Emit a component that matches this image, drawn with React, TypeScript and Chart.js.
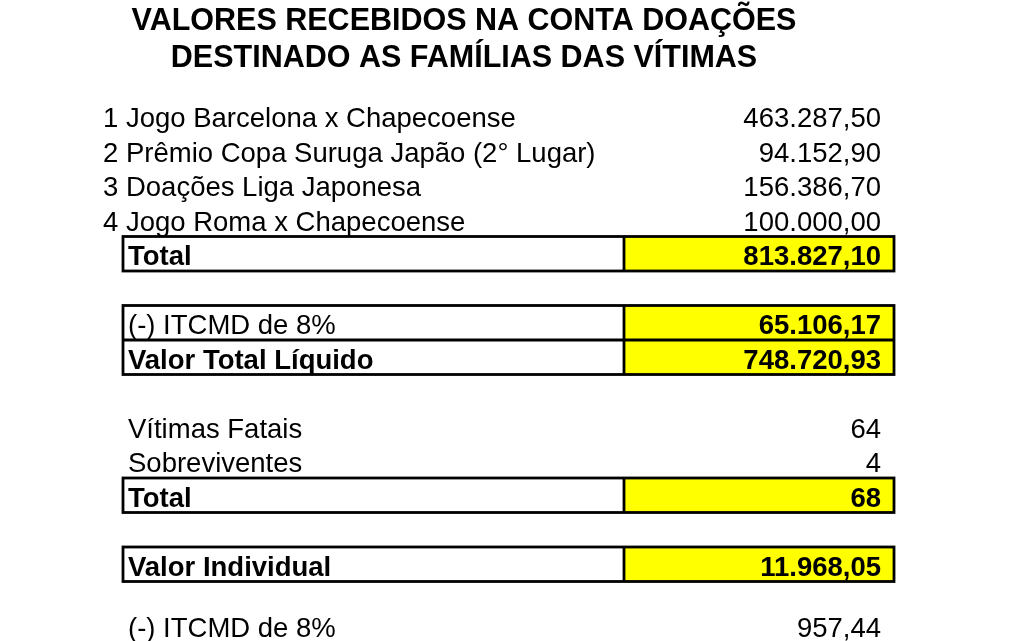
import React, { useEffect, useRef } from "react";
import { Chart, registerables } from "chart.js";

Chart.register(...registerables);

// ---- data ----
const TITLE_LINES = ["VALORES RECEBIDOS NA CONTA DOAÇÕES", "DESTINADO AS FAMÍLIAS DAS VÍTIMAS"];
const ITEM_LABELS = [
  "1 Jogo Barcelona x Chapecoense",
  "2 Prêmio Copa Suruga Japão (2° Lugar)",
  "3 Doações Liga Japonesa",
  "4 Jogo Roma x Chapecoense",
];
const ITEM_VALUES = [463287.5, 94152.9, 156386.7, 100000.0];
const TOTAL_LABEL = "Total";
const TOTAL_VALUE = 813827.1;
const TAX_LABEL = "(-) ITCMD de 8%";
const TAX_VALUE = 65106.17;
const NET_LABEL = "Valor Total Líquido";
const NET_VALUE = 748720.93;
const PEOPLE_LABELS = ["Vítimas Fatais", "Sobreviventes"];
const PEOPLE_VALUES = [64, 4];
const PEOPLE_TOTAL_LABEL = "Total";
const PEOPLE_TOTAL = 68;
const INDIVIDUAL_LABEL = "Valor Individual";
const INDIVIDUAL_VALUE = 11968.05;
const INDIVIDUAL_TAX_LABEL = "(-) ITCMD de 8%";
const INDIVIDUAL_TAX_VALUE = 957.44;

// ---- layout ----
const W = 1024;
const H = 641;
const PITCH = 34.5;
const ROW0 = 115.75;
const COL = { num: 103, label: 128, boxL: 123, split: 624, boxR: 894, value: 881 };
const FONT = "'Liberation Sans', Arial, sans-serif";
const FS = 27.5;

type Row = {
  label: string;
  value: number;
  dec: number;
  bold: boolean;
  valueBold: boolean;
  slot: number;
  indent: boolean;
  box: number;
};

function fmt(v: number, dec: number): string {
  const neg = v < 0;
  const fixed = Math.abs(v).toFixed(dec);
  const [intPart, decPart] = fixed.split(".");
  const withDots = intPart.replace(/\B(?=(\d{3})+(?!\d))/g, ".");
  return (neg ? "-" : "") + withDots + (decPart ? "," + decPart : "");
}

const ROWS: Row[] = [
  ...ITEM_LABELS.map((l, i) => ({
    label: l, value: ITEM_VALUES[i], dec: 2, bold: false, valueBold: false, slot: i, indent: false, box: -1,
  })),
  { label: TOTAL_LABEL, value: TOTAL_VALUE, dec: 2, bold: true, valueBold: true, slot: 4, indent: true, box: 0 },
  { label: TAX_LABEL, value: TAX_VALUE, dec: 2, bold: false, valueBold: true, slot: 6, indent: true, box: 1 },
  { label: NET_LABEL, value: NET_VALUE, dec: 2, bold: true, valueBold: true, slot: 7, indent: true, box: 1 },
  ...PEOPLE_LABELS.map((l, i) => ({
    label: l, value: PEOPLE_VALUES[i], dec: 0, bold: false, valueBold: false, slot: 9 + i, indent: true, box: -1,
  })),
  { label: PEOPLE_TOTAL_LABEL, value: PEOPLE_TOTAL, dec: 0, bold: true, valueBold: true, slot: 11, indent: true, box: 2 },
  { label: INDIVIDUAL_LABEL, value: INDIVIDUAL_VALUE, dec: 2, bold: true, valueBold: true, slot: 13, indent: true, box: 3 },
  {
    label: INDIVIDUAL_TAX_LABEL, value: INDIVIDUAL_TAX_VALUE, dec: 2, bold: false, valueBold: false, slot: 14.78, indent: true, box: -1,
  },
];

const tablePlugin = {
  id: "tablePlugin",
  afterDraw(chart: any) {
    const ctx = chart.ctx as CanvasRenderingContext2D;
    const xs = chart.scales.x;
    const ys = chart.scales.y;
    const px = (v: number) => xs.getPixelForValue(v);
    const py = (v: number) => ys.getPixelForValue(v);
    ctx.save();
    ctx.fillStyle = "#ffffff";
    ctx.fillRect(0, 0, W, H);

    // title
    ctx.fillStyle = "#000";
    ctx.textAlign = "center";
    ctx.textBaseline = "alphabetic";
    ctx.font = `bold 30.5px ${FONT}`;
    ctx.fillText(TITLE_LINES[0], px(464), 30);
    ctx.fillText(TITLE_LINES[1], px(464), 67);

    // boxes
    const groups: Record<number, Row[]> = {};
    ROWS.forEach((r) => {
      if (r.box >= 0) (groups[r.box] = groups[r.box] || []).push(r);
    });
    Object.values(groups).forEach((g) => {
      const top = py(g[0].slot - 0.5);
      const bot = py(g[g.length - 1].slot + 0.5);
      ctx.fillStyle = "#ffff00";
      ctx.fillRect(px(COL.split), top, px(COL.boxR) - px(COL.split), bot - top);
      ctx.strokeStyle = "#000";
      ctx.lineWidth = 2.8;
      ctx.strokeRect(px(COL.boxL), top, px(COL.boxR) - px(COL.boxL), bot - top);
      ctx.beginPath();
      ctx.moveTo(px(COL.split), top);
      ctx.lineTo(px(COL.split), bot);
      for (let i = 1; i < g.length; i++) {
        const y = py(g[i].slot - 0.5);
        ctx.moveTo(px(COL.boxL), y);
        ctx.lineTo(px(COL.boxR), y);
      }
      ctx.stroke();
    });

    // text
    ROWS.forEach((r) => {
      const base = py(r.slot) + 0.358 * FS + 1.5;
      ctx.fillStyle = "#000";
      ctx.font = `${r.bold ? "bold " : ""}${FS}px ${FONT}`;
      ctx.textAlign = "left";
      ctx.fillText(r.label, px(r.indent ? COL.label : COL.num), base);
      ctx.font = `${r.valueBold ? "bold " : ""}${FS}px ${FONT}`;
      ctx.textAlign = "right";
      ctx.fillText(fmt(r.value, r.dec), px(COL.value), base);
    });
    ctx.restore();
  },
};

export default function App() {
  const ref = useRef<HTMLCanvasElement | null>(null);
  useEffect(() => {
    document.body.style.margin = "0";
    const canvas = ref.current;
    if (!canvas) return;
    const yMin = -ROW0 / PITCH;
    const yMax = yMin + H / PITCH;
    const chart = new Chart(canvas, {
      type: "scatter",
      data: {
        datasets: [
          {
            label: "valores",
            data: ROWS.map((r) => ({ x: COL.value, y: r.slot })),
            pointRadius: 0,
            showLine: false,
          },
        ],
      },
      options: {
        animation: false,
        responsive: false,
        maintainAspectRatio: false,
        layout: { padding: 0 },
        plugins: { legend: { display: false }, tooltip: { enabled: false }, title: { display: false } },
        scales: {
          x: { type: "linear", min: 0, max: W, display: false },
          y: { type: "linear", min: yMin, max: yMax, reverse: true, display: false },
        },
      },
      plugins: [tablePlugin],
    });
    return () => chart.destroy();
  }, []);
  return (
    <div style={{ width: W, height: H, background: "#fff" }}>
      <canvas ref={ref} width={W} height={H} style={{ display: "block", width: W, height: H }} />
    </div>
  );
}
